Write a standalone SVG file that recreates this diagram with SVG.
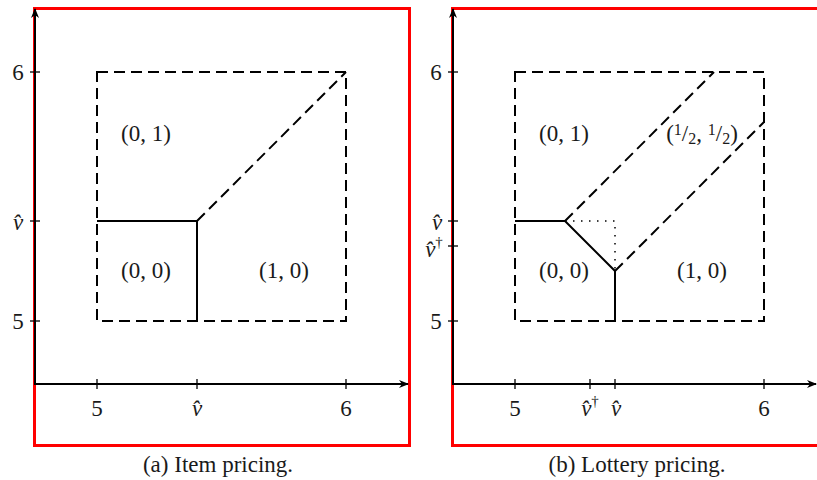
<svg xmlns="http://www.w3.org/2000/svg" width="817" height="480" viewBox="0 0 817 480" font-family="'Liberation Serif', 'DejaVu Serif', serif">
<defs>
<style>
.frame{fill:none;stroke:#f00;stroke-width:3}
.axis{fill:none;stroke:#000;stroke-width:2}
.tick{fill:none;stroke:#000;stroke-width:1.3}
.dash{fill:none;stroke:#000;stroke-width:2;stroke-dasharray:11 6}
.solid{fill:none;stroke:#000;stroke-width:2}
.dot{fill:none;stroke:#000;stroke-width:1.5;stroke-dasharray:1.5 6.5}
text{font-family:'Liberation Serif','DejaVu Serif',serif;fill:#1a1a1a}
.lbl{font-size:23px;text-anchor:middle}
.tl{font-size:23px;text-anchor:middle}
.cap{font-size:23px;text-anchor:middle}
.it{font-style:italic}
</style>
<marker id="arr" viewBox="0 0 10 10" refX="9" refY="5" markerWidth="5" markerHeight="5" orient="auto" markerUnits="strokeWidth">
<path d="M0,1 L10,5 L0,9 L3,5 Z" fill="#000"/>
</marker>
</defs>

<g id="panel-a">
<rect class="frame" x="34.5" y="8.5" width="375" height="437"/>
<g id="axes-a">
<line class="axis" x1="35" y1="385" x2="35" y2="9" marker-end="url(#arr)"/>
<line class="axis" x1="34" y1="384" x2="408" y2="384" marker-end="url(#arr)"/>
<line class="tick" x1="97" y1="379" x2="97" y2="389"/>
<line class="tick" x1="197" y1="379" x2="197" y2="389"/>
<line class="tick" x1="346" y1="379" x2="346" y2="389"/>
<line class="tick" x1="30" y1="72" x2="40" y2="72"/>
<line class="tick" x1="30" y1="221" x2="40" y2="221"/>
<line class="tick" x1="30" y1="321" x2="40" y2="321"/>
<text class="tl" x="97" y="416">5</text>
<text class="tl it" x="197" y="416">v̂</text>
<text class="tl" x="346" y="416">6</text>
<text class="tl" x="18" y="80">6</text>
<text class="tl it" x="18" y="230">v̂</text>
<text class="tl" x="18" y="329">5</text>
</g>
<g id="regions-a">
<rect class="dash" x="97" y="72" width="249" height="249"/>
<polyline class="solid" points="97,221 197,221 197,321"/>
<line class="dash" x1="197" y1="221" x2="346" y2="72"/>
</g>
<g id="labels-a">
<text class="lbl" x="146" y="141">(0, 1)</text>
<text class="lbl" x="146" y="278">(0, 0)</text>
<text class="lbl" x="284" y="278">(1, 0)</text>
</g>
<text class="cap" x="218" y="472">(a) Item pricing.</text>
</g>

<g id="panel-b">
<rect class="frame" x="452.5" y="8.5" width="375" height="437"/>
<g id="axes-b">
<line class="axis" x1="453" y1="385" x2="453" y2="9" marker-end="url(#arr)"/>
<line class="axis" x1="452" y1="384" x2="816" y2="384" marker-end="url(#arr)"/>
<line class="tick" x1="515" y1="379" x2="515" y2="389"/>
<line class="tick" x1="590" y1="379" x2="590" y2="389"/>
<line class="tick" x1="615" y1="379" x2="615" y2="389"/>
<line class="tick" x1="764" y1="379" x2="764" y2="389"/>
<line class="tick" x1="448" y1="72" x2="458" y2="72"/>
<line class="tick" x1="448" y1="221" x2="458" y2="221"/>
<line class="tick" x1="448" y1="246" x2="458" y2="246"/>
<line class="tick" x1="448" y1="321" x2="458" y2="321"/>
<text class="tl" x="515" y="416">5</text>
<text class="tl" x="590" y="416"><tspan class="it">v̂</tspan><tspan font-size="15" dy="-10">†</tspan></text>
<text class="tl it" x="616" y="416">v̂</text>
<text class="tl" x="764" y="416">6</text>
<text class="tl" x="436" y="80">6</text>
<text class="tl it" x="437" y="230">v̂</text>
<text class="tl" x="434" y="257"><tspan class="it">v̂</tspan><tspan font-size="15" dy="-10">†</tspan></text>
<text class="tl" x="436" y="329">5</text>
</g>
<g id="regions-b">
<rect class="dash" x="515" y="72" width="249" height="249"/>
<polyline class="solid" points="515,221 565,221 615,271 615,321"/>
<polyline class="dot" points="565,221 615,221 615,271"/>
<line class="dash" x1="565" y1="221" x2="714" y2="72"/>
<line class="dash" x1="615" y1="271" x2="764" y2="122"/>
</g>
<g id="labels-b">
<text class="lbl" x="564" y="141">(0, 1)</text>
<text class="lbl" x="564" y="278">(0, 0)</text>
<text class="lbl" x="702" y="278">(1, 0)</text>
<text class="lbl" x="702" y="141">(<tspan font-size="16" dy="-6">1</tspan><tspan dy="6">/</tspan><tspan font-size="16" dy="3">2</tspan><tspan dy="-3">, </tspan><tspan font-size="16" dy="-6">1</tspan><tspan dy="6">/</tspan><tspan font-size="16" dy="3">2</tspan><tspan dy="-3">)</tspan></text>
</g>
<text class="cap" x="637" y="472">(b) Lottery pricing.</text>
</g>
</svg>
